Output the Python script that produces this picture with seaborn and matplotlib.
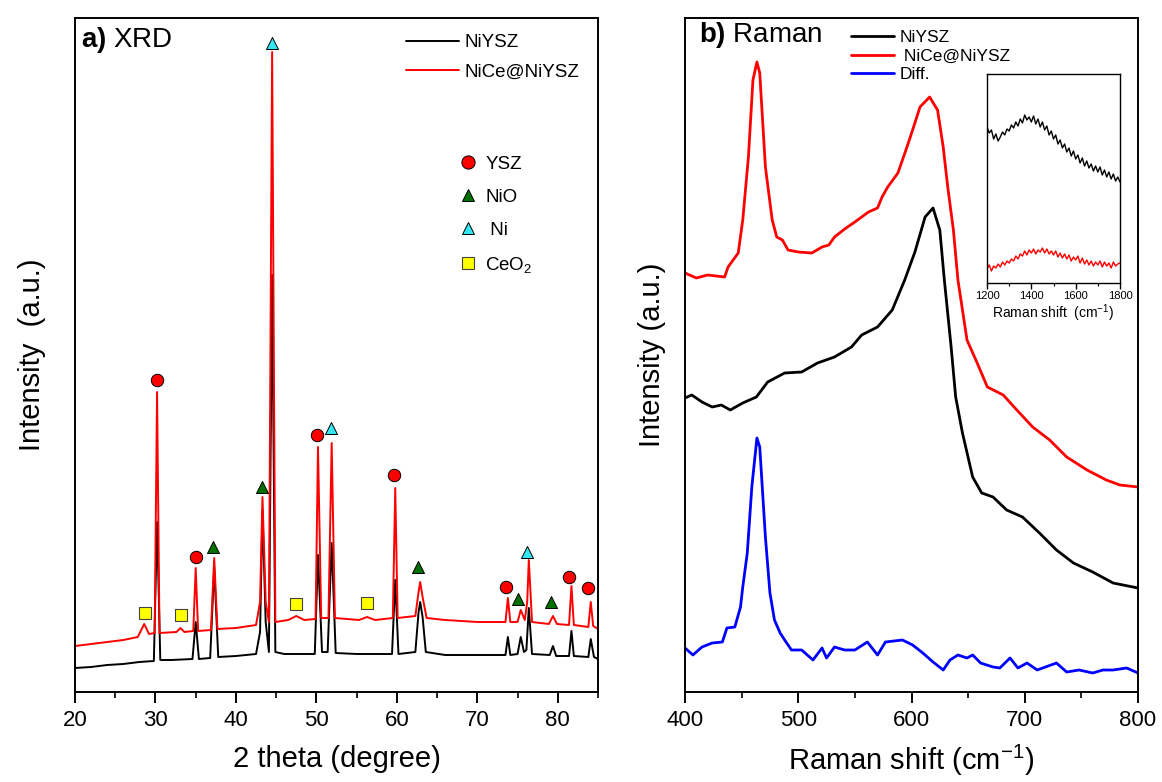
import numpy as np
import pandas as pd
import matplotlib
matplotlib.use("Agg")
import matplotlib.pyplot as plt
import seaborn as sns
from matplotlib.lines import Line2D
from matplotlib.ticker import MultipleLocator

# ---- XRD data (2 theta, intensity a.u.) ----
xrd_tt_niysz = [20.0, 22.0, 24.0, 26.0, 28.0, 29.8, 30.2, 30.6, 32.0, 34.6, 35.0, 35.4,
                36.8, 37.3, 37.8, 40.0, 42.5, 43.0, 43.3, 43.7, 44.1, 44.5, 44.9, 46.0,
                49.8, 50.2, 50.7, 51.4, 51.9, 52.4, 55.0, 59.4, 59.8, 60.2, 62.3, 62.7,
                62.9, 63.2, 63.6, 66.0, 70.0, 73.5, 73.8, 74.1, 75.0, 75.4, 75.8, 76.1,
                76.4, 76.8, 79.0, 79.4, 79.8, 81.4, 81.7, 82.0, 83.8, 84.1, 84.5, 85.0]
xrd_i_niysz = [24, 25, 27, 28, 30, 31, 170, 32, 32, 33, 70, 33,
               34, 125, 35, 36, 38, 60, 182, 70, 40, 417, 40, 38,
               38, 137, 40, 40, 149, 39, 38, 38, 112, 38, 40, 80,
               90, 75, 40, 37, 37, 37, 55, 37, 38, 55, 40, 42,
               84, 38, 37, 46, 36, 36, 61, 36, 35, 53, 35, 33]

xrd_tt_nice = [20.0, 22.0, 24.0, 26.0, 27.8, 28.6, 29.2, 29.9, 30.2, 30.5, 32.6, 33.1,
               33.6, 34.7, 35.0, 35.3, 36.9, 37.3, 37.7, 40.0, 42.5, 43.0, 43.3, 43.7,
               44.1, 44.5, 44.9, 46.5, 47.5, 48.5, 49.9, 50.2, 50.6, 51.5, 51.9, 52.3,
               55.3, 56.3, 57.3, 59.5, 59.8, 60.1, 62.3, 62.7, 62.9, 63.2, 63.7, 66.0,
               70.0, 73.5, 73.8, 74.1, 75.0, 75.4, 75.9, 76.2, 76.4, 76.8, 78.9, 79.4,
               79.9, 81.4, 81.7, 82.0, 83.8, 84.1, 84.4, 85.0]
xrd_i_nice = [46, 48, 50, 52, 55, 68, 58, 59, 300, 59, 60, 64,
              60, 61, 124, 61, 62, 134, 63, 64, 67, 90, 195, 90,
              70, 640, 70, 72, 76, 72, 73, 245, 74, 74, 249, 74,
              72, 75, 72, 74, 204, 74, 76, 100, 110, 95, 74, 72,
              70, 70, 94, 70, 70, 82, 72, 90, 132, 70, 68, 76,
              68, 67, 106, 67, 65, 90, 66, 63]

# phase markers (2 theta, height)
ysz_tt = [30.2, 35.0, 50.1, 59.6, 73.6, 81.4, 83.8]
ysz_h = [312, 135, 257, 217, 105, 115, 104]
nio_tt = [37.2, 43.2, 62.6, 75.1, 79.1]
nio_h = [145, 205, 125, 93, 90]
ni_tt = [44.5, 51.8, 76.2]
ni_h = [649, 264, 140]
ceo2_tt = [28.7, 33.2, 47.5, 56.3]
ceo2_h = [79, 77, 88, 89]

# ---- Raman data (shift cm-1, intensity a.u.) ----
ram_x_nice = [400, 410, 420, 435, 438, 447, 451, 456, 460, 463.5, 466, 471, 477, 481,
              486, 491, 500, 512, 521, 527, 532, 541, 550, 562, 570, 574, 579, 588,
              596, 603, 607.5, 616, 623, 628, 632, 637, 641, 649, 658, 667, 681, 693,
              707, 722, 737, 755, 772, 784, 800]
ram_y_nice = [419, 414, 417, 415, 425, 439, 472, 535, 612, 630, 619, 525, 472, 455,
              452, 442, 440, 439, 445, 447, 455, 463, 470, 480, 484, 495, 505, 519,
              545, 569, 585, 595, 582, 545, 505, 462, 412, 352, 329, 305, 297, 282,
              265, 252, 235, 222, 212, 207, 205]

ram_x_niysz = [400, 406, 415, 424, 432, 440, 451, 463, 473, 488, 503, 517, 532, 547,
               556, 570, 583, 594, 603, 612, 619, 625, 629, 635, 639, 645, 654, 662,
               672, 684, 698, 713, 728, 743, 760, 778, 800]
ram_y_niysz = [294, 297, 290, 285, 287, 282, 289, 295, 310, 319, 320, 329, 335, 345,
               357, 365, 382, 412, 440, 475, 484, 462, 412, 345, 295, 259, 215, 199,
               195, 182, 175, 159, 142, 129, 120, 109, 104]

ram_x_diff = [400, 407, 415, 424, 433, 437, 444, 449, 451, 455, 459, 463.5, 466, 471,
              475, 479, 484, 488, 494, 503, 513, 521, 525, 532, 541, 550, 561, 570,
              577, 592, 601, 610, 619, 628, 634, 641, 649, 654, 661, 672, 678, 687,
              694, 702, 711, 728, 737, 748, 760, 769, 778, 790, 800]
ram_y_diff = [44, 37, 45, 49, 50, 64, 65, 85, 105, 139, 205, 254, 245, 155,
              99, 72, 59, 52, 42, 42, 32, 44, 34, 45, 42, 42, 50, 37,
              50, 52, 47, 39, 30, 22, 32, 37, 34, 37, 29, 25, 24, 34,
              24, 29, 22, 29, 20, 22, 19, 22, 22, 24, 19]

# inset 1200-1800 cm-1, every 10 cm-1
inset_x = list(range(1200, 1801, 10))
inset_niysz = [156, 150, 153, 144, 149, 142, 146, 151, 148, 154,
               152, 158, 155, 161, 157, 164, 160, 168, 163, 166,
               161, 167, 159, 164, 156, 161, 153, 157, 148, 152,
               144, 148, 139, 143, 135, 139, 131, 135, 127, 132,
               124, 128, 120, 125, 117, 122, 115, 119, 112, 117,
               111, 116, 108, 113, 106, 111, 104, 109, 102, 106, 101]
inset_nice = [14, 18, 12, 17, 15, 19, 16, 21, 18, 22,
              20, 24, 22, 27, 24, 29, 27, 32, 28, 33,
              30, 34, 29, 33, 31, 35, 30, 34, 29, 32,
              28, 32, 26, 30, 25, 29, 24, 28, 22, 26,
              23, 27, 20, 25, 19, 23, 18, 22, 17, 21,
              18, 22, 16, 21, 17, 20, 15, 21, 17, 19, 20]

sns.set_theme(style="ticks", rc={'text.color': 'black', 'axes.labelcolor': 'black',
                                 'xtick.color': 'black', 'ytick.color': 'black',
                                 'axes.edgecolor': 'black'})
plt.rcParams['font.family'] = ['Liberation Sans', 'DejaVu Sans']
plt.rcParams['mathtext.fontset'] = 'custom'
plt.rcParams['mathtext.rm'] = 'Liberation Sans'
plt.rcParams['mathtext.it'] = 'Liberation Sans:italic'
plt.rcParams['mathtext.bf'] = 'Liberation Sans:bold'

fig = plt.figure(figsize=(11.62, 7.82), dpi=100)
ax1 = fig.add_axes([75 / 1162, 1 - 692 / 782, 523 / 1162, 674 / 782])
ax2 = fig.add_axes([685 / 1162, 1 - 692 / 782, 453 / 1162, 674 / 782])
axin = fig.add_axes([987 / 1162, 1 - 283 / 782, 133 / 1162, 209 / 782])


def style_axes(ax, lw=1.4):
    for sp in ax.spines.values():
        sp.set_visible(True)
        sp.set_color('black')
        sp.set_linewidth(lw)
    ax.set_yticks([])
    ax.tick_params(axis='x', which='both', direction='out', bottom=True, top=False,
                   color='black', labelcolor='black')


# ---- a) XRD ----
sns.lineplot(x=xrd_tt_niysz, y=xrd_i_niysz, ax=ax1, color='black', lw=1.4,
             estimator=None, sort=False)
sns.lineplot(x=xrd_tt_nice, y=xrd_i_nice, ax=ax1, color='red', lw=1.4,
             estimator=None, sort=False)
sns.scatterplot(x=ysz_tt, y=ysz_h, ax=ax1, marker='o', s=80, color='red',
                edgecolor='black', linewidth=0.7, zorder=5)
sns.scatterplot(x=nio_tt, y=nio_h, ax=ax1, marker='^', s=75, color='#007000',
                edgecolor='black', linewidth=0.7, zorder=5)
sns.scatterplot(x=ni_tt, y=ni_h, ax=ax1, marker='^', s=75, color='#33e6f0',
                edgecolor='black', linewidth=0.7, zorder=5)
sns.scatterplot(x=ceo2_tt, y=ceo2_h, ax=ax1, marker='s', s=70, color='#ffff00',
                edgecolor='#444444', linewidth=0.8, zorder=5)

ax1.set_xlim(20, 85)
ax1.set_ylim(0, 674)
style_axes(ax1)
ax1.xaxis.set_major_locator(MultipleLocator(10))
ax1.xaxis.set_minor_locator(MultipleLocator(5))
ax1.tick_params(axis='x', which='major', length=8, width=1.4, labelsize=16, pad=5)
ax1.tick_params(axis='x', which='minor', length=4, width=1.2)
ax1.set_xlabel('2 theta (degree)', fontsize=21)
ax1.set_ylabel('Intensity  (a.u.)', fontsize=21)
ax1.xaxis.set_label_coords(0.5, -0.078)
ax1.yaxis.set_label_coords(-0.056, 0.5)
ax1.text(0.012, 0.967, r'$\mathbf{a)}$ XRD', transform=ax1.transAxes, fontsize=20,
         ha='left', va='center')

line_handles = [Line2D([], [], color='black', lw=1.4), Line2D([], [], color='red', lw=1.4)]
leg1 = ax1.legend(line_handles, ['NiYSZ', 'NiCe@NiYSZ'], loc='upper left',
                  bbox_to_anchor=(0.615, 0.99), frameon=False, fontsize=13.5,
                  handlelength=2.8, handletextpad=0.3, labelspacing=0.65, borderpad=0)
ax1.add_artist(leg1)
mk_handles = [
    Line2D([], [], ls='none', marker='o', markersize=9.5, markerfacecolor='red', markeredgecolor='black', markeredgewidth=0.7),
    Line2D([], [], ls='none', marker='^', markersize=9, markerfacecolor='#007000', markeredgecolor='black', markeredgewidth=0.7),
    Line2D([], [], ls='none', marker='^', markersize=9, markerfacecolor='#33e6f0', markeredgecolor='black', markeredgewidth=0.7),
    Line2D([], [], ls='none', marker='s', markersize=8.5, markerfacecolor='#ffff00', markeredgecolor='#444444', markeredgewidth=0.8),
]
ax1.legend(mk_handles, ['YSZ', 'NiO', ' Ni', 'CeO$_2$'], loc='upper left',
           bbox_to_anchor=(0.72, 0.81), frameon=False, fontsize=13.5,
           handlelength=0.8, handletextpad=0.5, labelspacing=0.85, borderpad=0)

# ---- b) Raman ----
sns.lineplot(x=ram_x_niysz, y=ram_y_niysz, ax=ax2, color='black', lw=2,
             estimator=None, sort=False)
sns.lineplot(x=ram_x_nice, y=ram_y_nice, ax=ax2, color='red', lw=2,
             estimator=None, sort=False)
sns.lineplot(x=ram_x_diff, y=ram_y_diff, ax=ax2, color='blue', lw=2,
             estimator=None, sort=False)
ax2.set_xlim(400, 800)
ax2.set_ylim(0, 674)
style_axes(ax2)
ax2.xaxis.set_major_locator(MultipleLocator(100))
ax2.xaxis.set_minor_locator(MultipleLocator(50))
ax2.tick_params(axis='x', which='major', length=8, width=1.4, labelsize=16, pad=5)
ax2.tick_params(axis='x', which='minor', length=4, width=1.2)
ax2.set_xlabel('Raman shift (cm$^{-1}$)', fontsize=21)
ax2.set_ylabel('Intensity (a.u.)', fontsize=21)
ax2.xaxis.set_label_coords(0.5, -0.075)
ax2.yaxis.set_label_coords(-0.042, 0.5)
ax2.text(0.03, 0.975, r'$\mathbf{b)}$ Raman', transform=ax2.transAxes, fontsize=20,
         ha='left', va='center')
r_handles = [Line2D([], [], color='black', lw=2), Line2D([], [], color='red', lw=2),
             Line2D([], [], color='blue', lw=2)]
ax2.legend(r_handles, ['NiYSZ', ' NiCe@NiYSZ', 'Diff.'], loc='upper left',
           bbox_to_anchor=(0.347, 0.995), frameon=False, fontsize=12.5,
           handlelength=2.5, handletextpad=0.3, labelspacing=0.2, borderpad=0)

# ---- inset ----
sns.lineplot(x=inset_x, y=inset_niysz, ax=axin, color='black', lw=1,
             estimator=None, sort=False)
sns.lineplot(x=inset_x, y=inset_nice, ax=axin, color='red', lw=1,
             estimator=None, sort=False)
axin.set_xlim(1200, 1800)
axin.set_ylim(0, 209)
style_axes(axin, lw=1)
axin.xaxis.set_major_locator(MultipleLocator(200))
axin.xaxis.set_minor_locator(MultipleLocator(100))
axin.tick_params(axis='x', which='major', length=4, width=1, labelsize=8, pad=2)
axin.tick_params(axis='x', which='minor', length=2, width=0.8)
axin.set_xlabel('Raman shift  (cm$^{-1}$)', fontsize=10, labelpad=1)
axin.set_ylabel('')

fig.savefig('out.png', dpi=100)
